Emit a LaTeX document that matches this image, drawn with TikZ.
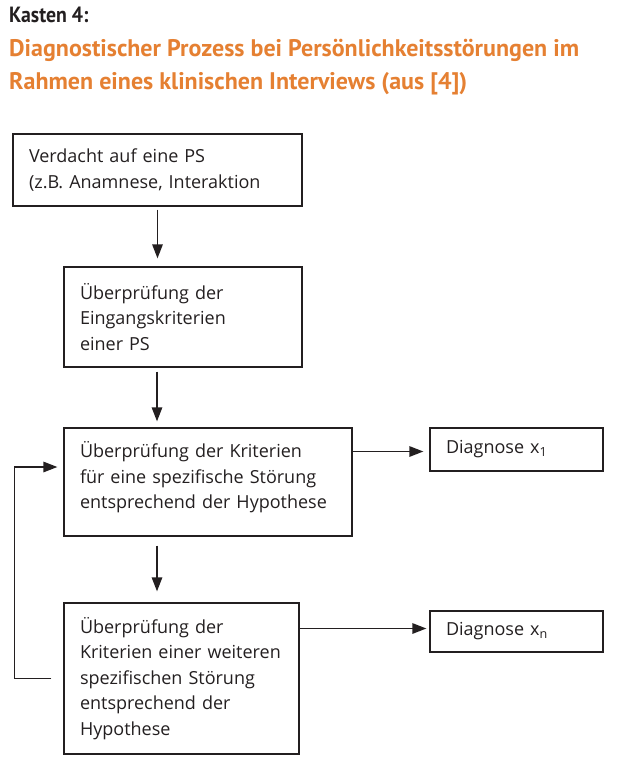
\documentclass[tikz,border=0pt]{standalone}
\usepackage{fontspec}
\setmainfont{Open Sans}
\newfontfamily\kastenfont{PT Sans}[FakeStretch=0.9]
\newfontfamily\titlefont{PT Sans}
\usepackage{tikz,xcolor}
\usetikzlibrary{arrows.meta}
\definecolor{kastenorange}{RGB}{229,128,50}
\definecolor{kastenink}{RGB}{35,31,32}
\tikzstyle{box} = [rectangle, draw=box edge, line width=1.3pt, inner xsep=16pt, inner ysep=0pt,
    align=left, text=kastenink, font=\fontsize{18}{25.5}\selectfont]
\tikzset{flow/.style={draw=box edge, line width=1.4pt, -{Triangle[length=14pt,width=10.5pt]}},
    heading/.style={inner sep=0pt, text=kastenink, font=\kastenfont\bfseries\fontsize{22}{26}\selectfont},
    headline/.style={inner sep=0pt, align=left, text=kastenorange, font=\titlefont\bfseries\fontsize{24}{33}\selectfont}}

\begin{document}
\begin{tikzpicture}[x=1pt,y=-1pt]
    \colorlet{box edge}{kastenink}
    \useasboundingbox (0,0) rectangle (627,767);
    % Title
    \node[heading, anchor=base west] (kasten) at (9,23) {Kasten 4:};
    \node[headline, anchor=north west] (titel) at (9,39)
        {Diagnostischer Prozess bei Persönlichkeitsstörungen im\\Rahmen eines klinischen Interviews (aus [4])};
    %
    \node[box, text width=257pt, minimum height=72pt] (verdacht) at (157.5,170)
        {Verdacht auf eine PS\\(z.B. Anamnese, Interaktion};
    \node[box, text width=206pt, minimum height=100pt] (eingang) at (183,317)
        {Überprüfung der\\Eingangskriterien\\einer PS};
    \node[box, text width=256pt, minimum height=108pt] (kriterien) at (208,482)
        {Überprüfung der Kriterien\\für eine spezifische Störung\\entsprechend der Hypothese\\[-12pt]\mbox{}};
    \node[box, text width=203pt, minimum height=151pt] (weitere) at (181.5,678.5)
        {Überprüfung der\\Kriterien einer weiteren\\spezifischen Störung\\entsprechend der\\Hypothese};
    \node[box, text width=141pt, minimum height=43pt] (diagA) at (516.5,449.5) {Diagnose x\textsubscript{1}};
    \node[box, text width=141pt, minimum height=41pt] (diagN) at (516.5,631.5) {Diagnose x\textsubscript{n}};
    %
    \draw[flow, shorten <=3pt, shorten >=8pt] (verdacht.south) -- (verdacht.south |- eingang.north);
    \draw[flow, shorten <=4pt, shorten >=6pt] ([xshift=-26pt]eingang.south) -- ([xshift=-26pt]eingang.south |- kriterien.north);
    \draw[flow, shorten <=9pt, shorten >=11pt] ([xshift=-51pt]kriterien.south) -- ([xshift=-51pt]kriterien.south |- weitere.north);
    \draw[flow, shorten >=6pt] ([yshift=-2pt]kriterien.east |- diagA.west) -- ([yshift=-2pt]diagA.west);
    \draw[flow, shorten >=3pt] ([yshift=3pt]weitere.east |- diagN.west) -- ([yshift=3pt]diagN.west);
    \draw[flow, shorten >=6pt] ([xshift=-12pt]weitere.west) -- ++(-37,0) |- ([yshift=15pt]kriterien.west);
\end{tikzpicture}
\end{document}
